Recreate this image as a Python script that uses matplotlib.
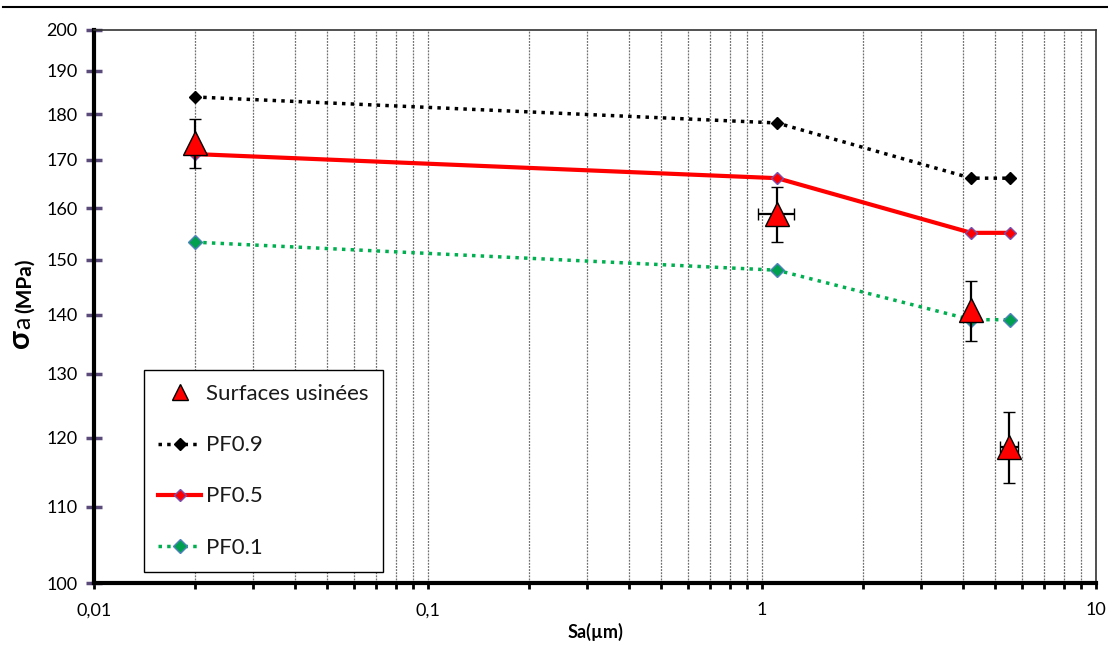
import matplotlib
matplotlib.use('Agg')
import matplotlib.pyplot as plt
from matplotlib.lines import Line2D
from matplotlib.ticker import FixedLocator, FixedFormatter, LogLocator, NullLocator

# Sa (µm) des surfaces polies et valeurs de sigma_a (MPa)
sa = [0.02, 1.11, 4.23, 5.53]
pf09 = [183.9, 178.0, 166.1, 166.1]
pf05 = [171.2, 166.1, 155.1, 155.1]
pf01 = [153.3, 148.0, 139.1, 139.1]

# surfaces usinées
sa_usin = [0.02, 1.11, 4.23, 5.5]
sig_usin = [173.6, 158.8, 140.8, 118.6]
err_usin = [5.3, 5.4, 5.3, 5.3]
xerr_usin = [0.0, 0.14, 0.0, 0.35]

yticks = [100, 110, 120, 130, 140, 150, 160, 170, 180, 190, 200]
xticks = [0.01, 0.1, 1, 10]
xlabels = ['0,01', '0,1', '1', '10']

plt.rcParams['font.family'] = ['Lato', 'DejaVu Sans']

fig = plt.figure(figsize=(11.08, 6.48), dpi=100)
ax = fig.add_axes([94/1108, 1 - 583/648, (1096-94)/1108, (583-30)/648])

ax.set_xscale('log')
ax.set_yscale('log')
ax.set_xlim(0.01, 10)
ax.set_ylim(100, 200)

# grille verticale
ax.xaxis.set_major_locator(FixedLocator(xticks))
ax.xaxis.set_major_formatter(FixedFormatter(xlabels))
ax.xaxis.set_minor_locator(LogLocator(base=10, subs=range(2, 10)))
ax.grid(True, which='both', axis='x', color='#707070', linestyle=(0, (1.5, 1)), linewidth=0.9)

ax.yaxis.set_major_locator(FixedLocator(yticks))
ax.yaxis.set_major_formatter(FixedFormatter([str(v) for v in yticks]))
ax.yaxis.set_minor_locator(NullLocator())

ax.tick_params(axis='y', which='major', direction='inout', length=12, width=2.5,
               color='#5b4b7a', labelsize=13, pad=6)
ax.tick_params(axis='x', which='both', direction='out', length=4, width=2,
               color='black', labelsize=13, pad=10)

for s in ['left', 'bottom']:
    ax.spines[s].set_linewidth(3)
    ax.spines[s].set_color('black')
for s in ['top', 'right']:
    ax.spines[s].set_linewidth(1.2)
    ax.spines[s].set_color('#333333')

ax.plot(sa, pf09, color='black', linestyle=(0, (1, 1.5)), linewidth=2.5,
        marker='D', markersize=6, markerfacecolor='black', markeredgecolor='black', zorder=3)
ax.plot(sa, pf05, color='#ff0000', linestyle='-', linewidth=3,
        marker='D', markersize=6, markerfacecolor='#ff0000', markeredgecolor='#7a4fb0',
        markeredgewidth=1, zorder=3)
ax.plot(sa, pf01, color='#00b050', linestyle=(0, (1, 1.5)), linewidth=2.5,
        marker='D', markersize=7, markerfacecolor='#00a050', markeredgecolor='#4f81bd',
        markeredgewidth=1, zorder=3)

ax.errorbar(sa_usin, sig_usin, yerr=err_usin, xerr=xerr_usin, fmt='^', markersize=17,
            markerfacecolor='#ff0000', markeredgecolor='black', markeredgewidth=1,
            ecolor='black', elinewidth=1.6, capsize=4, capthick=1.6, zorder=5)

ax.set_xlabel('Sa(µm)', fontsize=13, fontweight='bold', labelpad=3)

# légende
handles = [
    Line2D([], [], linestyle='none', marker='^', markersize=11,
           markerfacecolor='#ff0000', markeredgecolor='black'),
    Line2D([], [], color='black', linestyle=(0, (1, 1.5)), linewidth=2.5,
           marker='D', markersize=6, markerfacecolor='black'),
    Line2D([], [], color='#ff0000', linewidth=3, marker='D', markersize=6,
           markerfacecolor='#ff0000', markeredgecolor='#7a4fb0'),
    Line2D([], [], color='#00b050', linestyle=(0, (1, 1.5)), linewidth=2.5,
           marker='D', markersize=7, markerfacecolor='#00a050', markeredgecolor='#4f81bd'),
]
labels = ['Surfaces usinées', 'PF0.9', 'PF0.5', 'PF0.1']
leg = ax.legend(handles, labels, loc='lower left', bbox_to_anchor=((144-94)/1002, (583-572)/553),
                fontsize=16, frameon=True, fancybox=False, edgecolor='black',
                framealpha=1, labelspacing=1.4, handlelength=1.9, handletextpad=0.25,
                borderpad=0.65, borderaxespad=0)
leg.get_frame().set_linewidth(1)
for t in leg.get_texts():
    t.set_color('#1a1a1a')

# label de l'axe y
fig.text(34/1108, 1 - 339/648, 'σ', fontsize=22, fontweight='bold', rotation=90,
         ha='right', va='center')
fig.text(34/1108, 1 - 323/648, 'a', fontsize=18, rotation=90, ha='right', va='center')
fig.text(35/1108, 1 - 286/648, '(MPa)', fontsize=15, fontweight='bold', rotation=90,
         ha='right', va='center')

# trait en haut de la figure
fig.add_artist(Line2D([0.003, 1.0], [1 - 7/648, 1 - 7/648], color='black', linewidth=1.5))

fig.savefig('out.png', dpi=100)
